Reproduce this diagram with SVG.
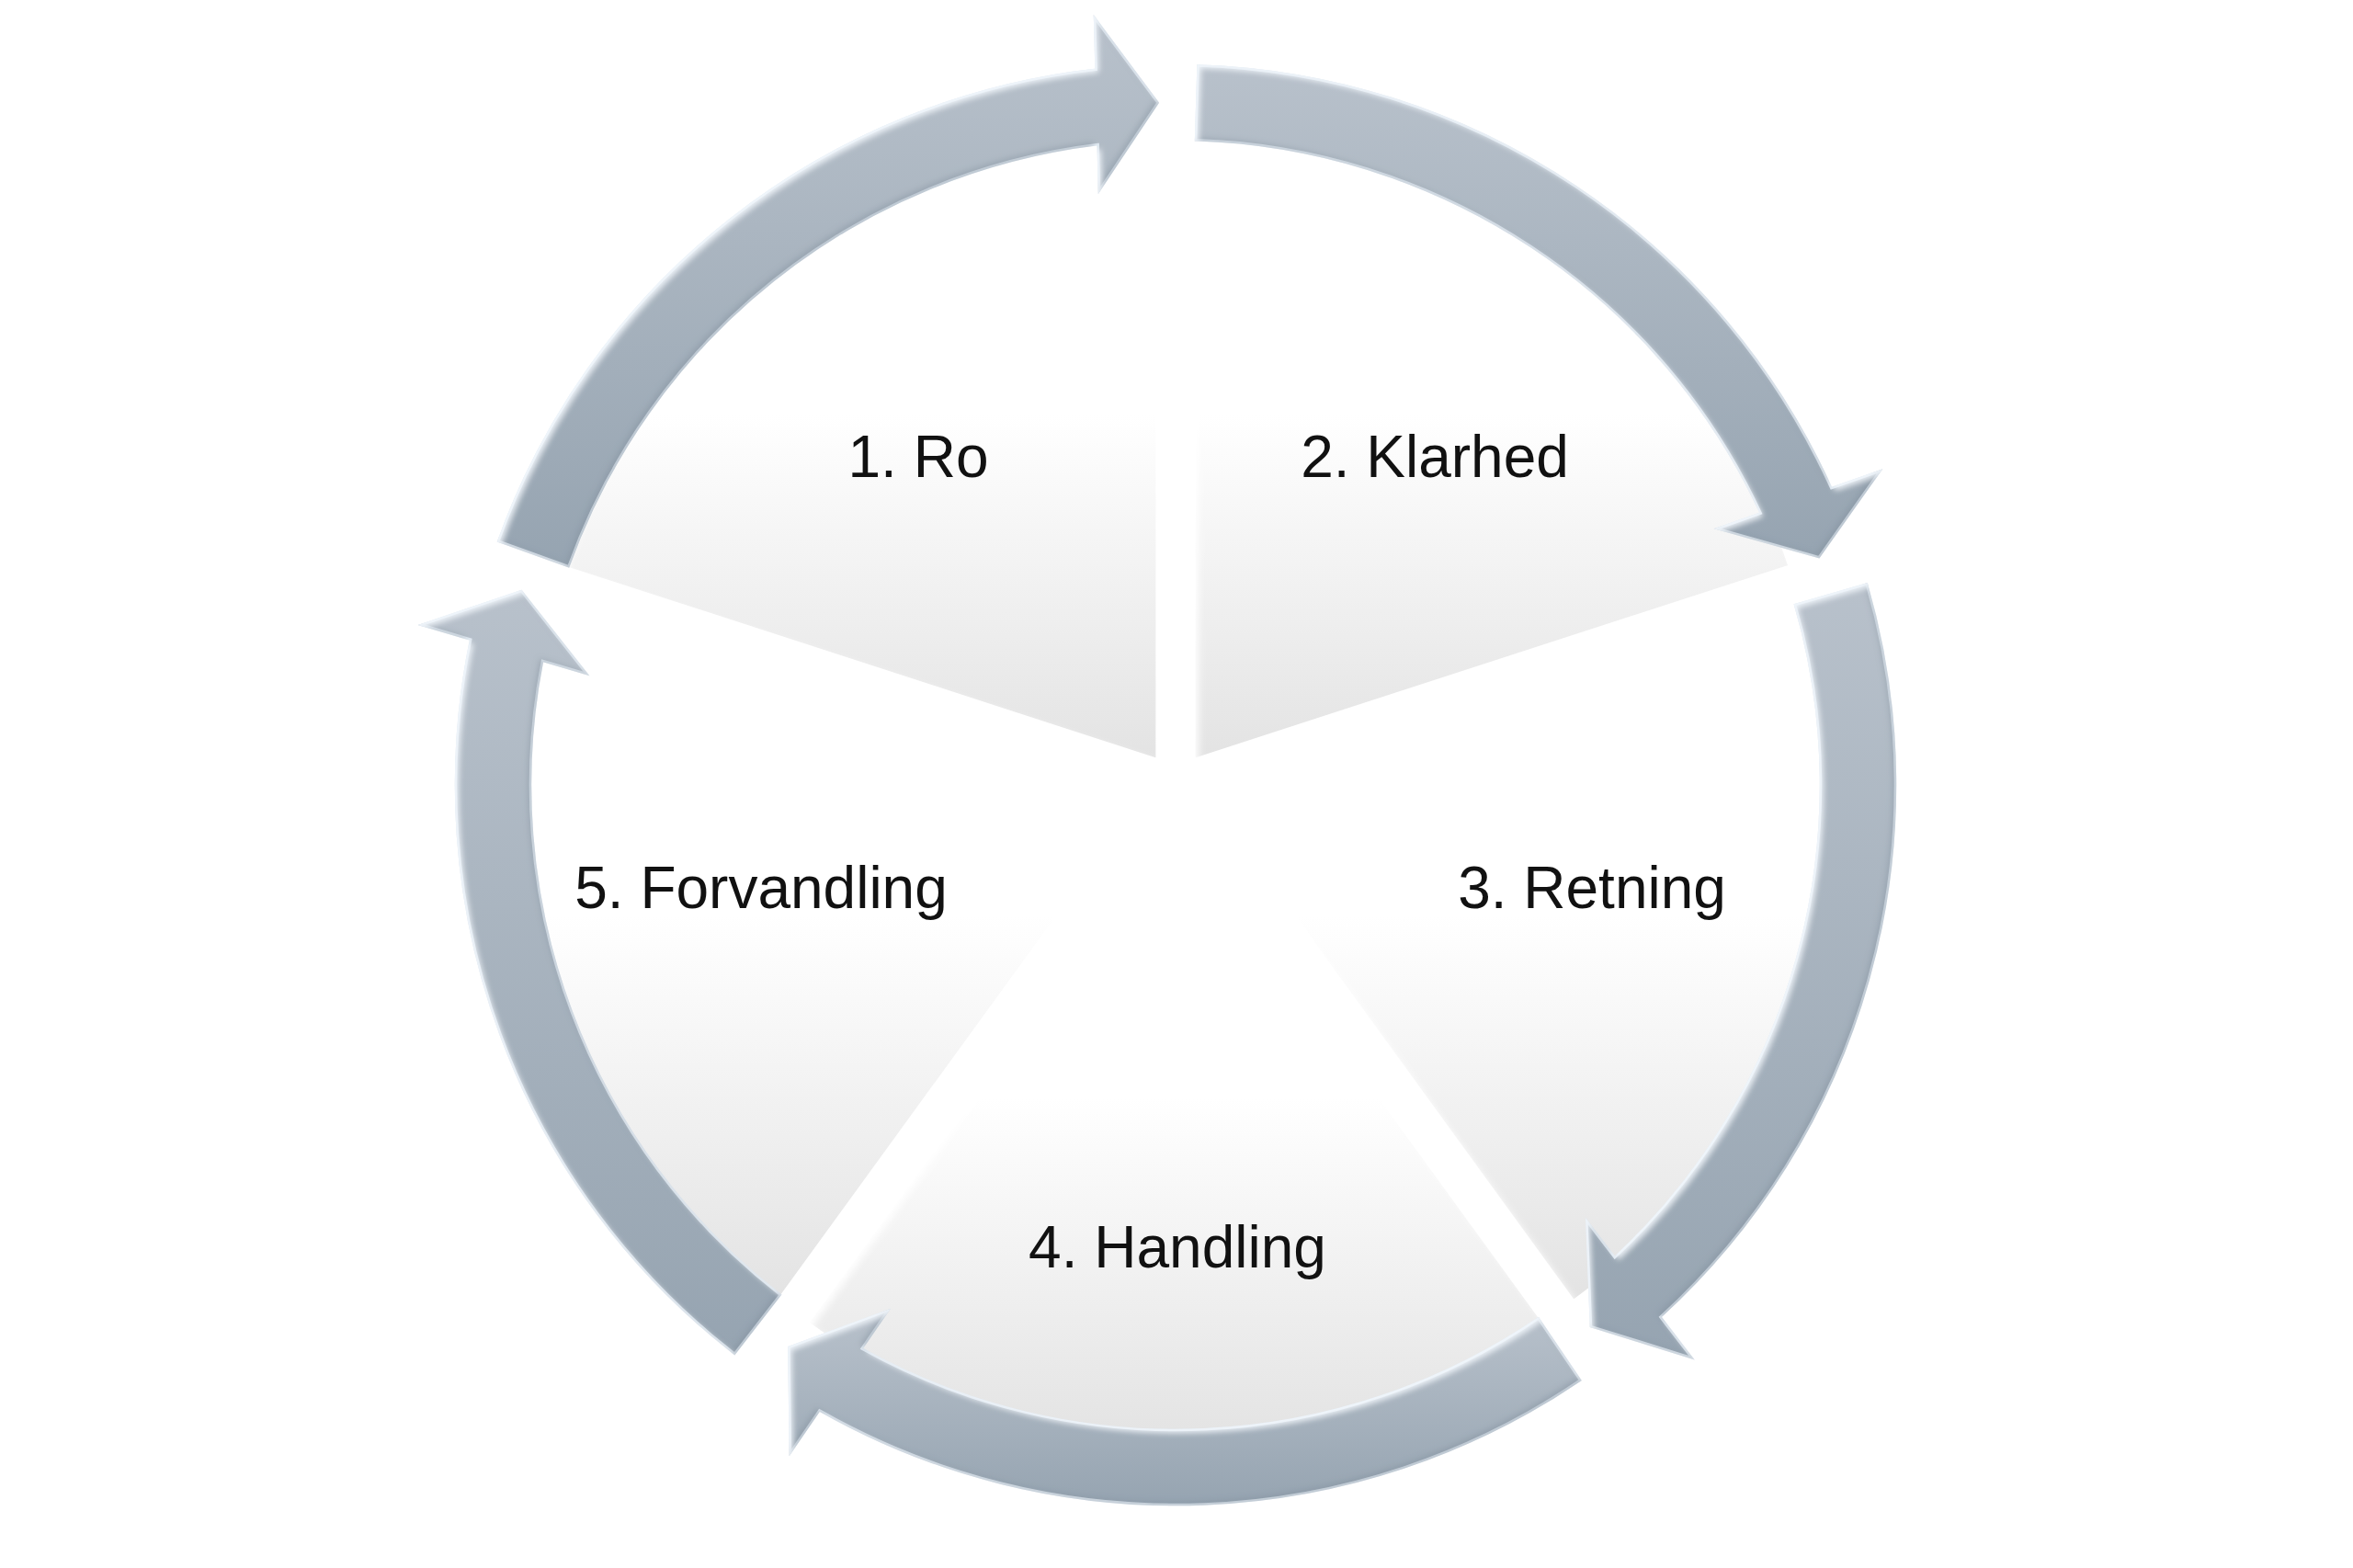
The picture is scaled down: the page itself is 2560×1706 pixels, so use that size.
<svg xmlns="http://www.w3.org/2000/svg" width="2560" height="1706" viewBox="0 0 2560 1706">
  <defs>
    <linearGradient id="wedgeGrad" x1="0" y1="0" x2="0" y2="1">
      <stop offset="0" stop-color="#ffffff"/>
      <stop offset="0.45" stop-color="#ffffff"/>
      <stop offset="1" stop-color="#e3e3e3"/>
    </linearGradient>
    <linearGradient id="arrowGrad" x1="0" y1="0" x2="0" y2="1">
      <stop offset="0" stop-color="#b8c1cb"/>
      <stop offset="1" stop-color="#96a4b1"/>
    </linearGradient>
    <filter id="bevel" x="-5%" y="-5%" width="110%" height="110%">
      <feGaussianBlur in="SourceAlpha" stdDeviation="3" result="blur"/>
      <feOffset in="blur" dx="4" dy="4" result="offA"/>
      <feComposite in="SourceAlpha" in2="offA" operator="out" result="hlMask"/>
      <feFlood flood-color="#f2f7fc" flood-opacity="0.9"/>
      <feComposite in2="hlMask" operator="in" result="hl"/>
      <feOffset in="blur" dx="-4" dy="-4" result="offB"/>
      <feComposite in="SourceAlpha" in2="offB" operator="out" result="shMask"/>
      <feFlood flood-color="#7d8c9a" flood-opacity="0.45"/>
      <feComposite in2="shMask" operator="in" result="sh"/>
      <feMerge>
        <feMergeNode in="SourceGraphic"/>
        <feMergeNode in="sh"/>
        <feMergeNode in="hl"/>
      </feMerge>
    </filter>
    <filter id="wbevel" x="-5%" y="-5%" width="110%" height="110%">
      <feGaussianBlur in="SourceAlpha" stdDeviation="4" result="blur"/>
      <feOffset in="blur" dx="5" dy="5" result="offA"/>
      <feComposite in="SourceAlpha" in2="offA" operator="out" result="hlMask"/>
      <feFlood flood-color="#ffffff" flood-opacity="1"/>
      <feComposite in2="hlMask" operator="in" result="hl"/>
      <feMerge>
        <feMergeNode in="SourceGraphic"/>
        <feMergeNode in="hl"/>
      </feMerge>
    </filter>
    <style>
      .wedge { fill: url(#wedgeGrad); stroke: #ffffff; stroke-width: 2; filter: url(#wbevel); }
      .arrow { fill: url(#arrowGrad); stroke: #dfe8f1; stroke-width: 2.5; stroke-linejoin: miter; filter: url(#bevel); }
      .label { font-family: "Liberation Sans", Arial, sans-serif; font-size: 64px; fill: #111111; text-anchor: middle; }
    </style>
  </defs>
  <rect width="2560" height="1706" fill="#ffffff"/>

  <g id="node1">
    <path class="wedge" d="M 1258.4 825.7 L 611.7 615.6 A 680 680 0 0 1 1258.4 145.7 Z"/>
    <text class="label" x="999" y="519">1. Ro</text>
  </g>
  <g id="node2">
    <path class="wedge" d="M 1299.6 825.7 L 1299.6 145.7 A 680 680 0 0 1 1946.3 615.6 Z"/>
    <text class="label" x="1561" y="519">2. Klarhed</text>
  </g>
  <g id="node3">
    <path class="wedge" d="M 1312.3 864.8 L 1959.0 654.7 A 680 680 0 0 1 1712.0 1414.9 Z"/>
    <text class="label" x="1732" y="988">3. Retning</text>
  </g>
  <g id="node4">
    <path class="wedge" d="M 1279 889 L 1678.7 1439.1 A 680 680 0 0 1 879.3 1439.1 Z"/>
    <text class="label" x="1281" y="1379">4. Handling</text>
  </g>
  <g id="node5">
    <path class="wedge" d="M 1245.7 864.8 L 846.0 1414.9 A 680 680 0 0 1 599.0 654.7 Z"/>
    <text class="label" x="828" y="988">5. Forvandling</text>
  </g>

  <g id="connectors">
    <path id="arrow1" class="arrow" d="M 542.3 588.8 A 783 783 0 0 1 1192.6 75.8 L 1191.1 20.0 L 1259.6 111.7 L 1196.0 207.0 L 1194.7 157.1 A 702 702 0 0 0 618.5 616.2 Z"/>
    <path id="arrow2" class="arrow" d="M 1303.6 71.4 A 783 783 0 0 1 1992.4 531.3 L 2045.0 512.7 L 1978.9 606.1 L 1868.7 575.2 L 1915.8 558.5 A 702 702 0 0 0 1301.1 152.3 Z"/>
    <path id="arrow3" class="arrow" d="M 2030.9 635.6 A 783 783 0 0 1 1806.3 1432.8 L 1840.3 1477.1 L 1731.0 1443.1 L 1726.4 1328.7 L 1756.8 1368.3 A 702 702 0 0 0 1953.1 658.1 Z"/>
    <path id="arrow4" class="arrow" d="M 1719.1 1501.6 A 783 783 0 0 1 891.5 1534.4 L 859.9 1580.4 L 858.4 1465.9 L 965.8 1426.2 L 937.5 1467.4 A 702 702 0 0 0 1673.6 1434.6 Z"/>
    <path id="arrow5" class="arrow" d="M 799.1 1472.7 A 783 783 0 0 1 512.2 695.7 L 458.7 679.8 L 567.1 643.1 L 638.0 733.0 L 590.1 718.8 A 702 702 0 0 0 848.7 1408.7 Z"/>
  </g>
</svg>
